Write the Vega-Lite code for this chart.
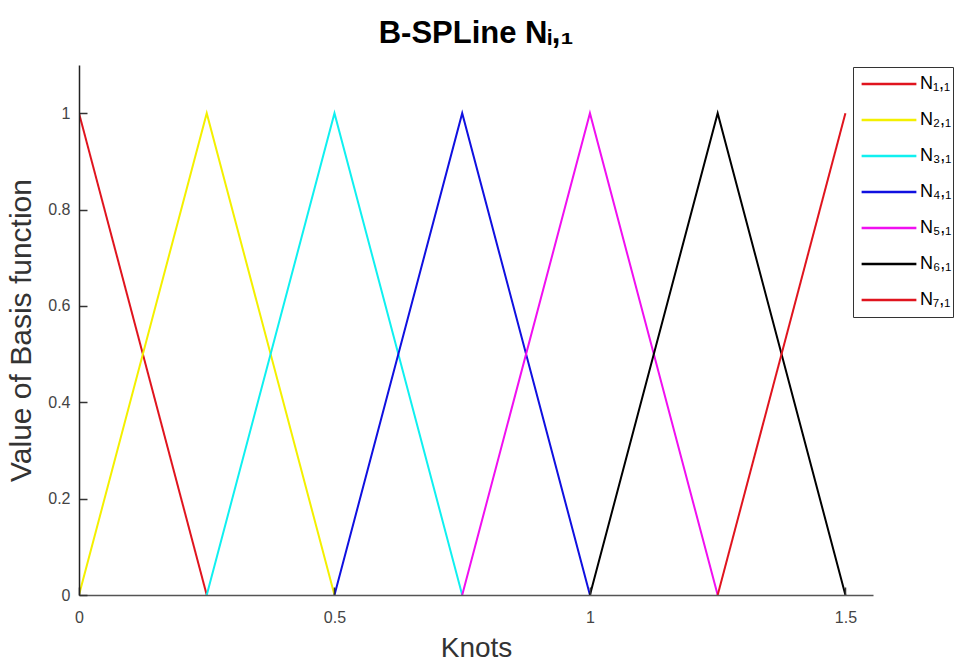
{
  "$schema": "https://vega.github.io/schema/vega-lite/v6.json",
  "width": 794,
  "height": 530,
  "autosize": {"type": "none"},
  "padding": {"left": 79, "top": 65, "right": 89, "bottom": 68},
  "background": "white",
  "title": {
    "text": "B-SPLine Nᵢ,₁",
    "font": "Liberation Sans",
    "fontSize": 31,
    "fontWeight": "bold",
    "color": "#000",
    "anchor": "middle",
    "offset": 15
  },
  "data": {
    "values": [
      {"f": "N₁,₁", "x": 0, "y": 1}, {"f": "N₁,₁", "x": 0.25, "y": 0},
      {"f": "N₂,₁", "x": 0, "y": 0}, {"f": "N₂,₁", "x": 0.25, "y": 1}, {"f": "N₂,₁", "x": 0.5, "y": 0},
      {"f": "N₃,₁", "x": 0.25, "y": 0}, {"f": "N₃,₁", "x": 0.5, "y": 1}, {"f": "N₃,₁", "x": 0.75, "y": 0},
      {"f": "N₄,₁", "x": 0.5, "y": 0}, {"f": "N₄,₁", "x": 0.75, "y": 1}, {"f": "N₄,₁", "x": 1, "y": 0},
      {"f": "N₅,₁", "x": 0.75, "y": 0}, {"f": "N₅,₁", "x": 1, "y": 1}, {"f": "N₅,₁", "x": 1.25, "y": 0},
      {"f": "N₆,₁", "x": 1, "y": 0}, {"f": "N₆,₁", "x": 1.25, "y": 1}, {"f": "N₆,₁", "x": 1.5, "y": 0},
      {"f": "N₇,₁", "x": 1.25, "y": 0}, {"f": "N₇,₁", "x": 1.5, "y": 1}
    ]
  },
  "mark": {"type": "line", "strokeWidth": 2, "clip": true},
  "encoding": {
    "x": {
      "field": "x", "type": "quantitative",
      "scale": {"domain": [0, 1.554], "nice": false, "zero": false},
      "axis": {
        "values": [0, 0.5, 1, 1.5],
        "format": "~g",
        "labelFlush": false,
        "title": "Knots",
        "grid": false,
        "zindex": 1,
        "domainColor": "#555",
        "domainWidth": 1.5,
        "tickColor": "#333",
        "tickWidth": 1.5,
        "tickSize": -8,
        "labelPadding": 22,
        "labelFont": "Liberation Sans",
        "labelFontSize": 16,
        "labelColor": "#444",
        "titleFont": "Liberation Sans",
        "titleFontSize": 28,
        "titleFontWeight": "normal",
        "titleColor": "#333",
        "titlePadding": 9
      }
    },
    "y": {
      "field": "y", "type": "quantitative",
      "scale": {"domain": [0, 1.1], "nice": false},
      "axis": {
        "values": [0, 0.2, 0.4, 0.6, 0.8, 1],
        "format": "~g",
        "labelFlush": false,
        "title": "Value of Basis function",
        "grid": false,
        "zindex": 1,
        "domainColor": "#222",
        "domainWidth": 1.5,
        "tickColor": "#333",
        "tickWidth": 1.5,
        "tickSize": -8,
        "labelPadding": 17,
        "labelFont": "Liberation Sans",
        "labelFontSize": 16,
        "labelColor": "#444",
        "titleFont": "Liberation Sans",
        "titleFontSize": 30,
        "titleFontWeight": "normal",
        "titleColor": "#333",
        "titlePadding": 11
      }
    },
    "color": {
      "field": "f", "type": "nominal",
      "scale": {
        "domain": ["N₁,₁", "N₂,₁", "N₃,₁", "N₄,₁", "N₅,₁", "N₆,₁", "N₇,₁"],
        "range": ["#e0141e", "#f4f000", "#10f0f0", "#1010e0", "#f010f0", "#000000", "#e0141e"]
      },
      "legend": {
        "title": null,
        "orient": "none",
        "legendX": 774,
        "legendY": 2,
        "padding": 1,
        "strokeColor": "#333",
        "fillColor": "white",
        "symbolType": "stroke",
        "symbolSize": 3000,
        "symbolStrokeWidth": 2.5,
        "symbolOffset": 6,
        "clipHeight": 32,
        "rowPadding": 4,
        "labelFont": "Liberation Sans",
        "labelFontSize": 18,
        "labelColor": "#000",
        "labelOffset": 2
      }
    }
  },
  "config": {"view": {"stroke": null}}
}
